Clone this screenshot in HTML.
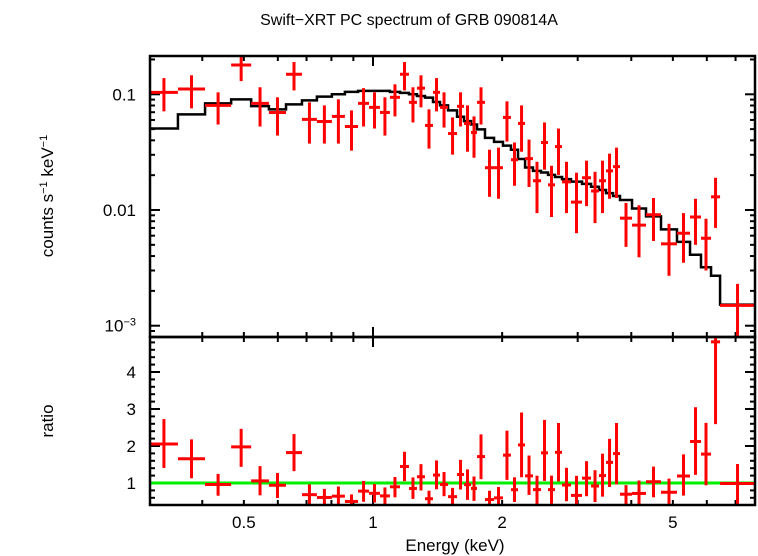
<!DOCTYPE html>
<html><head><meta charset="utf-8"><style>
html,body{margin:0;padding:0;background:#fff;}
svg{display:block;font-family:"Liberation Sans",sans-serif;}
</style></head><body>
<svg id="chart" width="758" height="556" viewBox="0 0 758 556" xmlns="http://www.w3.org/2000/svg">
<defs>
<clipPath id="clipTop"><rect x="150" y="56" width="605" height="281"/></clipPath>
<clipPath id="clipBot"><rect x="150" y="337" width="605" height="168"/></clipPath>
</defs>
<text x="409" y="25" font-size="16" text-anchor="middle">Swift−XRT PC spectrum of GRB 090814A</text>
<text transform="translate(53,196) rotate(-90)" font-size="17" text-anchor="middle">counts s<tspan font-size="11" dy="-6">−1</tspan><tspan dy="6"> keV</tspan><tspan font-size="11" dy="-6">−1</tspan></text>
<text transform="translate(53,421) rotate(-90)" font-size="17" text-anchor="middle">ratio</text>
<text x="455" y="551" font-size="17" text-anchor="middle">Energy (keV)</text>
<g id="gTop"></g>
<g id="gBot"></g>
</svg>
<script>
// bin edges in keV
const binEdges = [0.302,0.351,0.406,0.467,0.520,0.572,0.627,0.683,0.740,0.802,0.860,0.923,0.979,1.038,1.095,1.156,1.213,1.266,1.322,1.380,1.433,1.496,1.570,1.630,1.692,1.748,1.824,1.915,2.009,2.097,2.178,2.262,2.360,2.464,2.558,2.656,2.758,2.894,3.071,3.223,3.364,3.493,3.627,3.765,4.016,4.329,4.692,5.112,5.483,5.815,6.137,6.442,7.77];
const dataValues = [0.104,0.111,0.0802,0.179,0.0835,0.0697,0.149,0.0607,0.0582,0.0644,0.0527,0.0835,0.0771,0.0697,0.0942,0.149,0.0852,0.113,0.0538,0.104,0.0771,0.0458,0.0787,0.0560,0.0468,0.0852,0.0232,0.0232,0.0631,0.0272,0.0560,0.0278,0.0179,0.0383,0.0165,0.0353,0.0175,0.0117,0.0190,0.0146,0.0179,0.0218,0.0237,0.0085,0.0074,0.0091,0.0051,0.0063,0.0087,0.0057,0.0130,0.0015];
const dataUpper = [0.138,0.146,0.104,0.223,0.115,0.0942,0.190,0.0852,0.0802,0.0905,0.0726,0.113,0.104,0.0942,0.122,0.190,0.115,0.146,0.0741,0.138,0.104,0.0631,0.104,0.0802,0.0644,0.115,0.0332,0.0346,0.0869,0.0383,0.0802,0.0406,0.0261,0.0571,0.0241,0.0506,0.0261,0.0210,0.0267,0.0214,0.0267,0.0307,0.0346,0.0115,0.0110,0.0127,0.0076,0.0094,0.0125,0.0084,0.0190,0.0023];
const dataLower = [0.0712,0.0756,0.0548,0.130,0.0527,0.0440,0.108,0.0375,0.0375,0.0375,0.0326,0.0527,0.0506,0.0440,0.0644,0.108,0.0571,0.0771,0.0339,0.0712,0.0516,0.0301,0.0527,0.0319,0.0283,0.0548,0.0130,0.0125,0.0390,0.0162,0.0319,0.0158,0.0094,0.0223,0.0087,0.0201,0.0094,0.0063,0.0108,0.0077,0.0094,0.0125,0.0127,0.0048,0.0039,0.0054,0.0027,0.0035,0.0050,0.0030,0.0070,0.0005];
const modelValues = [0.0506,0.067,0.0835,0.0905,0.079,0.0741,0.0818,0.0887,0.0955,0.100,0.105,0.107,0.107,0.107,0.105,0.103,0.100,0.0967,0.0936,0.0857,0.0802,0.0726,0.064,0.0586,0.0548,0.0497,0.042,0.0388,0.036,0.0332,0.0276,0.0233,0.0218,0.0211,0.0201,0.0193,0.0185,0.0176,0.0168,0.0159,0.0149,0.014,0.0132,0.0122,0.0103,0.0088,0.0068,0.0053,0.0041,0.0032,0.0027,0.00152];
const xTickLabels = [0.5,1,2,5];
const yTickLabels = [0.1,0.01,0.001];
const ratioTickLabels = [1,2,3,4];

const NS="http://www.w3.org/2000/svg";
const X0=150,X1=755;
const PXD=429;
function xs(e){return 373+Math.log10(e)*PXD;}
function ys(v){return 94.3-(Math.log10(v)+1)*115.7;}
function yr(r){return 483-(r-1)*37;}
function mk(tag,attrs,parent){const el=document.createElementNS(NS,tag);for(const k in attrs)el.setAttribute(k,attrs[k]);parent.appendChild(el);return el;}
const gT=document.getElementById('gTop'), gB=document.getElementById('gBot');

function xTicks(g,yTop,yBot){
  for(let d=-1;d<=0;d++){for(let m=1;m<=9;m++){const e=m*Math.pow(10,d);const x=xs(e);if(x<X0-0.5||x>X1+0.5)continue;
    const L=(m===1)?10:5;
    const t1=mk('line',{x1:x,y1:yBot,x2:x,y2:yBot-L,stroke:'#000','stroke-width':2},g);
    
    
    const t2=mk('line',{x1:x,y1:yTop,x2:x,y2:yTop+L,stroke:'#000','stroke-width':2},g);
    
    
  }}
}
xTicks(gT,56,337); xTicks(gB,337,505);
for(let d=-4;d<=-1;d++){for(let m=1;m<=9;m++){const v=m*Math.pow(10,d);const y=ys(v);if(y<56||y>337)continue;const L=m===1?10:5;
  const a=mk('line',{x1:X0,y1:y,x2:X0+L,y2:y,stroke:'#000','stroke-width':2},gT);
  
  
  const b=mk('line',{x1:X1,y1:y,x2:X1-L,y2:y,stroke:'#000','stroke-width':2},gT);
  
  
}}
const ytxt=['0.1','0.01'];
yTickLabels.forEach((v,i)=>{
  const t=mk('text',{x:136,y:ys(v)+6,'font-size':17,'text-anchor':'end'},gT);
  
  
  if(i<2)t.textContent=ytxt[i]; else {t.textContent='10';const s=mk('tspan',{'font-size':11,dy:-6},t);s.textContent='−3';}
});
for(let k=0;k<=25;k++){const r=0.4+k*0.2;const y=yr(r);if(y<337||y>505)continue;const major=Math.abs(r-Math.round(r))<1e-6;const L=major?10:5;
  const a=mk('line',{x1:X0,y1:y,x2:X0+L,y2:y,stroke:'#000','stroke-width':2},gB);
  
  
  const b=mk('line',{x1:X1,y1:y,x2:X1-L,y2:y,stroke:'#000','stroke-width':2},gB);
  
  
}
ratioTickLabels.forEach(r=>{
  const t=mk('text',{x:136,y:yr(r)+6,'font-size':17,'text-anchor':'end'},gB);
  
  
  t.textContent=String(r);
});
xTickLabels.forEach(e=>{
  const t=mk('text',{x:xs(e),y:528,'font-size':17,'text-anchor':'middle'},gB);
  
  
  t.textContent=String(e);
});

const gm=mk('g',{'clip-path':'url(#clipTop)'},gT);
let d='';
modelValues.forEach((v,i)=>{const xa=xs(binEdges[i]),xb=xs(binEdges[i+1]),y=ys(v);d+=(i===0?'M':'L')+xa+','+y+'L'+xb+','+y;});
const mp=mk('path',{d:d,fill:'none',stroke:'#000','stroke-width':2.5},gm);



const gd=mk('g',{'clip-path':'url(#clipTop)'},gT);
const gr=mk('g',{'clip-path':'url(#clipBot)'},gB);
const gl=mk('line',{x1:X0,y1:yr(1),x2:X1,y2:yr(1),stroke:'#00ee00','stroke-width':3},gr);


dataValues.forEach((v,i)=>{
  const xa=xs(binEdges[i]),xb=xs(binEdges[i+1]);
  const xc=xs(Math.sqrt(binEdges[i]*binEdges[i+1]));
  const g1=mk('g',{},gd);
  
  
  mk('line',{x1:xa,y1:ys(v),x2:xb,y2:ys(v),stroke:'#f00','stroke-width':3},g1);
  mk('line',{x1:xc,y1:ys(dataUpper[i]),x2:xc,y2:ys(dataLower[i]),stroke:'#f00','stroke-width':3},g1);
  const m=modelValues[i];
  const g2=mk('g',{},gr);
  
  
  mk('line',{x1:xa,y1:yr(v/m),x2:xb,y2:yr(v/m),stroke:'#f00','stroke-width':3},g2);
  mk('line',{x1:xc,y1:yr(dataUpper[i]/m),x2:xc,y2:yr(dataLower[i]/m),stroke:'#f00','stroke-width':3},g2);
});
const f1=mk('rect',{x:X0,y:56,width:X1-X0,height:281,fill:'none',stroke:'#000','stroke-width':2.5},gT);


const f2=mk('rect',{x:X0,y:337,width:X1-X0,height:168,fill:'none',stroke:'#000','stroke-width':2.5},gB);


</script>
</body></html>
